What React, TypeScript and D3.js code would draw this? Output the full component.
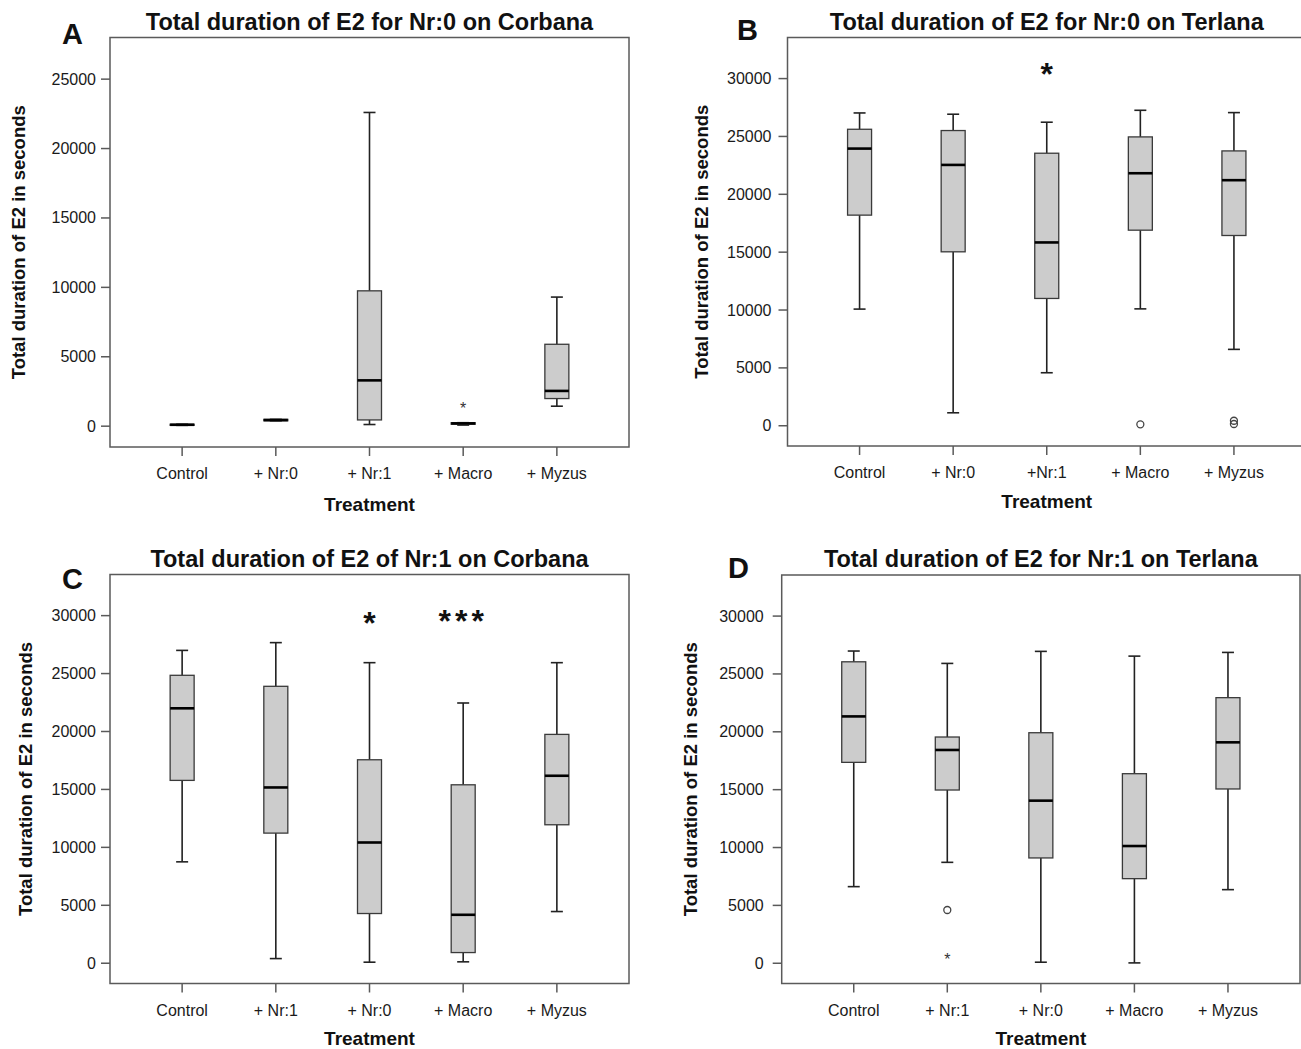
import React from 'react';
import * as d3 from 'd3';

// ---------- DATA ----------
const catsA = ['Control', '+ Nr:0', '+ Nr:1', '+ Macro', '+ Myzus'];
const catsB = ['Control', '+ Nr:0', '+Nr:1', '+ Macro', '+ Myzus'];
const catsC = ['Control', '+ Nr:1', '+ Nr:0', '+ Macro', '+ Myzus'];
const catsD = ['Control', '+ Nr:1', '+ Nr:0', '+ Macro', '+ Myzus'];

// [whiskerLow, q1, median, q3, whiskerHigh]
const statsA = [
  [60, 60, 100, 140, 140],
  [390, 390, 440, 490, 490],
  [120, 450, 3300, 9750, 22600],
  [80, 140, 200, 250, 250],
  [1440, 1990, 2540, 5900, 9300],
];
const statsB = [
  [10080, 18200, 23950, 25620, 27030],
  [1120, 15030, 22540, 25510, 26920],
  [4580, 11000, 15840, 23550, 26230],
  [10100, 16900, 21820, 24960, 27260],
  [6600, 16440, 21220, 23750, 27060],
];
const statsC = [
  [8750, 15780, 22000, 24850, 27000],
  [400, 11230, 15170, 23900, 27670],
  [90, 4290, 10420, 17560, 25940],
  [120, 920, 4180, 15400, 22460],
  [4460, 11950, 16180, 19750, 25940],
];
const statsD = [
  [6620, 17360, 21330, 26050, 26980],
  [8720, 14970, 18430, 19550, 25910],
  [90, 9100, 14050, 19920, 26950],
  [30, 7310, 10130, 16380, 26540],
  [6360, 15060, 19090, 22950, 26860],
];

// outliers: [categoryIndex, value, kind]
const outliersA: [number, number, string][] = [[3, 1510, 'star']];
const outliersB: [number, number, string][] = [[3, 120, 'circle'], [4, 430, 'circle'], [4, 150, 'circle']];
const outliersC: [number, number, string][] = [];
const outliersD: [number, number, string][] = [[1, 4600, 'circle'], [1, 600, 'star']];

// significance marks: [categoryIndex, value, label]
const sigA: [number, number, string][] = [];
const sigB: [number, number, string][] = [[2, 30700, '*']];
const sigC: [number, number, string][] = [[2, 29750, '*'], [3, 29850, '***']];
const sigD: [number, number, string][] = [];

const ticksA = [0, 5000, 10000, 15000, 20000, 25000];
const ticksBCD = [0, 5000, 10000, 15000, 20000, 25000, 30000];

const domainA: [number, number] = [-1500, 28000];
const domainBCD: [number, number] = [-1750, 33550];

const titleA = 'Total duration of E2 for Nr:0 on Corbana';
const titleB = 'Total duration of E2 for Nr:0 on Terlana';
const titleC = 'Total duration of E2 of Nr:1 on Corbana';
const titleD = 'Total duration of E2 for Nr:1 on Terlana';
const yLabel = 'Total duration of E2 in seconds';
const xLabel = 'Treatment';

// ---------- LAYOUT ----------
const FONT = '"Liberation Sans", Arial, Helvetica, sans-serif';

type PanelProps = {
  x0: number; x1: number; y0: number; y1: number;
  domain: [number, number];
  cats: string[];
  stats: number[][];
  outliers: [number, number, string][];
  sig: [number, number, string][];
  ticks: number[];
  title: string;
  letter: string;
  letterX: number; letterY: number;
  yLabelX: number;
  tickGap: number;
  xLabelOff: number;
};

function Panel(p: PanelProps) {
  const y = d3.scaleLinear().domain(p.domain).range([p.y1, p.y0]);
  const x = d3.scalePoint<string>().domain(p.cats.map((_, i) => String(i))).range([p.x0, p.x1]).padding(0.77);
  const bw = 24;
  const cap = 12;
  const cx = (p.x0 + p.x1) / 2;
  const cy = (p.y0 + p.y1) / 2;
  return (
    <g fontFamily={FONT}>
      <rect x={p.x0} y={p.y0} width={p.x1 - p.x0} height={p.y1 - p.y0} fill="none" stroke="#5a5a5a" strokeWidth={1.5} />
      {p.ticks.map((t) => (
        <g key={'yt' + t}>
          <line x1={p.x0 - 9} x2={p.x0} y1={y(t)} y2={y(t)} stroke="#5a5a5a" strokeWidth={1.5} />
          <text x={p.x0 - p.tickGap} y={y(t)} textAnchor="end" dominantBaseline="central" fontSize={16} fill="#1a1a1a">{t}</text>
        </g>
      ))}
      {p.cats.map((c, i) => {
        const xc = x(String(i))!;
        return (
          <g key={'xt' + i}>
            <line x1={xc} x2={xc} y1={p.y1} y2={p.y1 + 9} stroke="#5a5a5a" strokeWidth={1.5} />
            <text x={xc} y={p.y1 + 32} textAnchor="middle" fontSize={16} fill="#1a1a1a">{c}</text>
          </g>
        );
      })}
      {p.stats.map((s, i) => {
        const xc = x(String(i))!;
        const [lo, q1, md, q3, hi] = s;
        return (
          <g key={'b' + i}>
            <line x1={xc} x2={xc} y1={y(hi)} y2={y(q3)} stroke="#222" strokeWidth={1.6} />
            <line x1={xc} x2={xc} y1={y(q1)} y2={y(lo)} stroke="#222" strokeWidth={1.6} />
            <line x1={xc - cap / 2} x2={xc + cap / 2} y1={y(hi)} y2={y(hi)} stroke="#222" strokeWidth={1.6} />
            <line x1={xc - cap / 2} x2={xc + cap / 2} y1={y(lo)} y2={y(lo)} stroke="#222" strokeWidth={1.6} />
            <rect x={xc - bw / 2} y={y(q3)} width={bw} height={Math.max(0.5, y(q1) - y(q3))} fill="#cccccc" stroke="#3a3a3a" strokeWidth={1.3} />
            <line x1={xc - bw / 2} x2={xc + bw / 2} y1={y(md)} y2={y(md)} stroke="#000" strokeWidth={2.6} />
          </g>
        );
      })}
      {p.outliers.map(([ci, v, kind], j) => {
        const xc = x(String(ci))!;
        return kind === 'circle' ? (
          <circle key={'o' + j} cx={xc} cy={y(v)} r={3.5} fill="none" stroke="#444" strokeWidth={1.3} />
        ) : (
          <text key={'o' + j} x={xc} y={y(v) + 9} textAnchor="middle" fontSize={16} fill="#333">*</text>
        );
      })}
      {p.sig.map(([ci, v, lab], j) => {
        const xc = x(String(ci))!;
        return (
          <text key={'s' + j} x={xc} y={y(v) + 15} textAnchor="middle" fontSize={32} fontWeight="bold" letterSpacing={lab.length > 1 ? 4 : 0} fill="#111">{lab}</text>
        );
      })}
      <text x={cx} y={p.y0 - 8} textAnchor="middle" fontSize={23.5} fontWeight="bold" fill="#111">{p.title}</text>
      <text x={p.letterX} y={p.letterY} fontSize={29} fontWeight="bold" fill="#111">{p.letter}</text>
      <text x={cx} y={p.y1 + p.xLabelOff} textAnchor="middle" fontSize={19} fontWeight="bold" fill="#111">{xLabel}</text>
      <text transform={`translate(${p.yLabelX},${cy}) rotate(-90)`} textAnchor="middle" dominantBaseline="central" fontSize={18.5} fontWeight="bold" fill="#111">{yLabel}</text>
    </g>
  );
}

export default function App() {
  return (
    <>
      <style>{'body{margin:0;background:#fff}'}</style>
      <svg width={1301} height={1049} viewBox="0 0 1301 1049" style={{ display: 'block' }}>
        <rect width={1301} height={1049} fill="#fff" />
        <Panel x0={110} x1={629} y0={37.5} y1={447} domain={domainA} cats={catsA} stats={statsA} outliers={outliersA} sig={sigA}
          ticks={ticksA} title={titleA} letter="A" letterX={62} letterY={44} yLabelX={18} tickGap={14} xLabelOff={64} />
        <Panel x0={787.5} x1={1306} y0={37.5} y1={446} domain={domainBCD} cats={catsB} stats={statsB} outliers={outliersB} sig={sigB}
          ticks={ticksBCD} title={titleB} letter="B" letterX={737} letterY={40} yLabelX={701} tickGap={16} xLabelOff={62} />
        <Panel x0={110} x1={629} y0={574.5} y1={983.5} domain={domainBCD} cats={catsC} stats={statsC} outliers={outliersC} sig={sigC}
          ticks={ticksBCD} title={titleC} letter="C" letterX={62} letterY={589} yLabelX={25} tickGap={14} xLabelOff={61} />
        <Panel x0={781.7} x1={1300} y0={575} y1={983.5} domain={domainBCD} cats={catsD} stats={statsD} outliers={outliersD} sig={sigD}
          ticks={ticksBCD} title={titleD} letter="D" letterX={728} letterY={578} yLabelX={690} tickGap={18} xLabelOff={61} />
      </svg>
    </>
  );
}
